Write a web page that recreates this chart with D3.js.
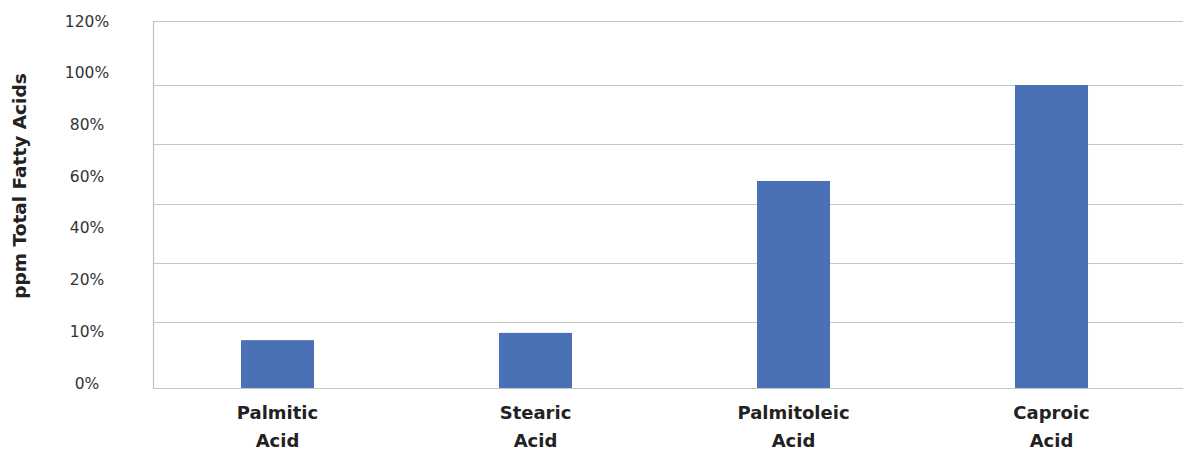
<!DOCTYPE html>
<html><head><meta charset="utf-8">
<script src="https://cdn.jsdelivr.net/npm/d3@7"></script>
<style>
html,body{margin:0;padding:0;background:#fff;}
text{font-family:"DejaVu Sans",sans-serif;}
</style></head>
<body>
<svg id="chart" width="1183" height="451"></svg>
<script>
const categories = [["Palmitic","Acid"],["Stearic","Acid"],["Palmitoleic","Acid"],["Caproic","Acid"]];
const values = [14.5, 16.7, 67.6, 100];
const gridValues = [0, 20, 40, 60, 80, 100, 120];
const tickLabels = ["0%","10%","20%","40%","60%","80%","100%","120%"];
const yTitle = "ppm Total Fatty Acids";

const svg = d3.select("#chart");
const keys = categories.map(c => c.join(" "));

const x = d3.scaleBand().domain(keys).range([148.5, 1180.5]).paddingInner(0.717).paddingOuter(0.3585);
const y = d3.scaleLinear().domain([0, 20, 100, 120]).range([388, 322, 85, 21]);
const yLab = d3.scalePoint().domain(tickLabels).range([383, 21]);

// gridlines
svg.append("g").selectAll("line").data(gridValues).join("line")
  .attr("x1", 153).attr("x2", 1183)
  .attr("y1", d => Math.round(y(d)) + 0.5).attr("y2", d => Math.round(y(d)) + 0.5)
  .attr("stroke", "#c6c6c6").attr("stroke-width", 1.2);

// left axis line
svg.append("line").attr("x1", 153.5).attr("x2", 153.5)
  .attr("y1", y(120)).attr("y2", y(0) + 1)
  .attr("stroke", "#c0c0c0").attr("stroke-width", 1.2);

// bars
svg.append("g").selectAll("rect").data(values).join("rect")
  .attr("x", (d, i) => x(keys[i])).attr("width", x.bandwidth())
  .attr("y", d => y(d)).attr("height", d => y(0) - y(d))
  .attr("fill", "#4a71b5");

// y tick labels
svg.append("g").selectAll("text").data(tickLabels).join("text")
  .attr("x", 87).attr("y", d => yLab(d)).attr("dy", "0.36em")
  .attr("text-anchor", "middle").attr("font-size", 15.5).attr("fill", "#333")
  .text(d => d);

// category labels
const cat = svg.append("g").selectAll("text").data(categories).join("text")
  .attr("text-anchor", "middle").attr("font-size", 18).attr("font-weight", 700).attr("fill", "#222")
  .attr("transform", (d, i) => `translate(${x(keys[i]) + x.bandwidth() / 2},0)`);
cat.selectAll("tspan").data(d => d).join("tspan")
  .attr("x", 0).attr("y", (d, j) => 419 + j * 28).text(d => d);

// y title
svg.append("text").attr("transform", "translate(26,186) rotate(-90)")
  .attr("text-anchor", "middle").attr("font-size", 18.5).attr("font-weight", 700).attr("fill", "#222")
  .text(yTitle);
</script>
</body></html>
